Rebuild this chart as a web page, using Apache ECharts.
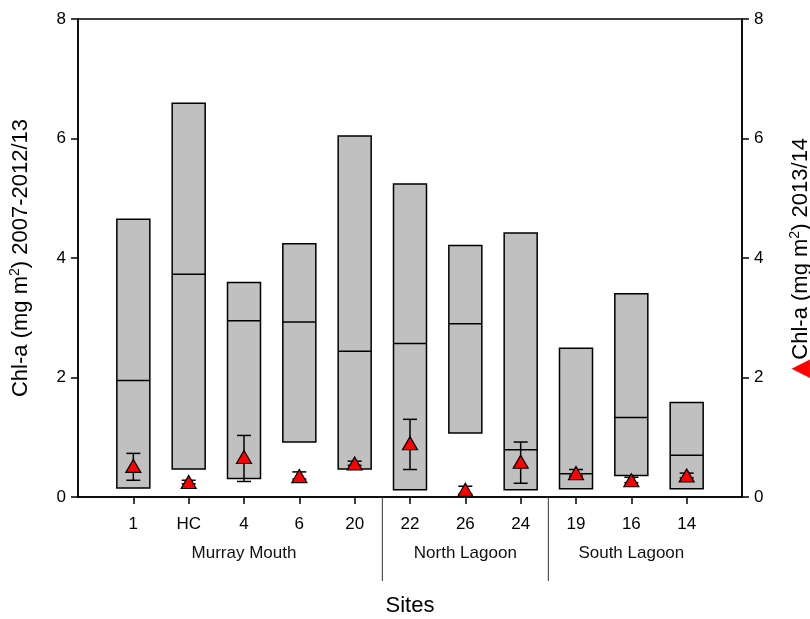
<!DOCTYPE html>
<html>
<head>
<meta charset="utf-8">
<script src="https://cdn.jsdelivr.net/npm/echarts@6/dist/echarts.min.js"></script>
<style>
  html, body { margin: 0; padding: 0; background: #fff; }
  #chart { width: 810px; height: 619px; }
</style>
</head>
<body>
<div id="chart"></div>
<script>
// 站点与数据
var sites = ['1', 'HC', '4', '6', '20', '22', '26', '24', '19', '16', '14'];
var boxMin = [0.15, 0.47, 0.31, 0.92, 0.47, 0.12, 1.07, 0.12, 0.14, 0.36, 0.14];
var boxMed = [1.95, 3.73, 2.95, 2.93, 2.44, 2.57, 2.90, 0.79, 0.39, 1.33, 0.70];
var boxMax = [4.65, 6.59, 3.59, 4.24, 6.04, 5.24, 4.21, 4.42, 2.49, 3.40, 1.58];
var mean2013 = [0.52, 0.25, 0.67, 0.35, 0.56, 0.90, 0.12, 0.59, 0.40, 0.28, 0.36];
var errLo = [0.28, 0.22, 0.26, 0.30, 0.53, 0.46, 0.05, 0.23, 0.35, 0.24, 0.32];
var errHi = [0.73, 0.28, 1.03, 0.42, 0.60, 1.30, 0.18, 0.92, 0.46, 0.33, 0.40];
var yTicks = [0, 2, 4, 6, 8];
var groups = [
  { name: 'Murray Mouth', first: 0, last: 4 },
  { name: 'North Lagoon', first: 5, last: 7 },
  { name: 'South Lagoon', first: 8, last: 10 }
];

// 两端各留一个空位
var xCats = [''].concat(sites, ['']);

var chart = echarts.init(document.getElementById('chart'));

var boxData = sites.map(function (s, i) { return [i + 1, boxMin[i], boxMed[i], boxMax[i]]; });
var errData = sites.map(function (s, i) { return [i + 1, errLo[i], errHi[i]]; });
var meanData = sites.map(function (s, i) { return [i + 1, mean2013[i]]; });

var font = 'Liberation Sans, Arial, sans-serif';

var yAxisBase = {
  type: 'value',
  min: yTicks[0],
  max: yTicks[yTicks.length - 1],
  interval: 2,
  splitLine: { show: false },
  axisLine: { show: true, lineStyle: { color: '#000', width: 1.5 } },
  axisTick: { show: true, inside: false, length: 7, lineStyle: { color: '#000', width: 1.5 } },
  axisLabel: { color: '#000', fontSize: 17, fontFamily: font, margin: 12 },
  nameLocation: 'middle',
  nameRotate: 90,
  nameTextStyle: {
    color: '#000', fontSize: 22, fontFamily: font,
    rich: {
      sup: { fontSize: 14, fontFamily: font, color: '#000', verticalAlign: 'top', padding: [0, 0, 12, 0] },
      tri: { fontSize: 24, fontFamily: 'DejaVu Sans', color: '#ff0000' }
    }
  }
};

option = {
  animation: false,
  grid: {
    left: 78, right: 68, top: 19, bottom: 122,
    outerBoundsMode: 'none',
    show: true, borderColor: '#000', borderWidth: 1.5
  },
  xAxis: {
    type: 'category',
    data: xCats,
    boundaryGap: false,
    name: 'Sites',
    nameLocation: 'middle',
    nameGap: 98,
    nameTextStyle: { color: '#000', fontSize: 22, fontFamily: font },
    axisLine: { lineStyle: { color: '#000', width: 1.5 } },
    axisTick: {
      length: 7,
      lineStyle: { color: '#000', width: 1.5 },
      interval: function (i) { return i > 0 && i < xCats.length - 1; }
    },
    axisLabel: { color: '#000', fontSize: 17, fontFamily: font, margin: 19, interval: 0 }
  },
  yAxis: [
    Object.assign({}, yAxisBase, {
      position: 'left',
      name: 'Chl-a (mg m{sup|2}) 2007-2012/13',
      nameGap: 44
    }),
    Object.assign({}, yAxisBase, {
      position: 'right',
      name: '{tri|▲}Chl-a (mg m{sup|2}) 2013/14',
      nameGap: 46
    })
  ],
  series: [
    {
      // 箱体：最小值到最大值，中间为中位数
      type: 'custom',
      data: boxData,
      renderItem: function (params, api) {
        var x = api.value(0);
        var lo = api.coord([x, api.value(1)]);
        var md = api.coord([x, api.value(2)]);
        var hi = api.coord([x, api.value(3)]);
        var w = 33;
        return {
          type: 'group',
          children: [
            {
              type: 'rect',
              shape: { x: lo[0] - w / 2, y: hi[1], width: w, height: lo[1] - hi[1] },
              style: { fill: '#c0c0c0', stroke: '#000', lineWidth: 1.5 }
            },
            {
              type: 'line',
              shape: { x1: md[0] - w / 2, y1: md[1], x2: md[0] + w / 2, y2: md[1] },
              style: { stroke: '#000', lineWidth: 1.5 }
            }
          ]
        };
      }
    },
    {
      // 误差线
      type: 'custom',
      yAxisIndex: 1,
      data: errData,
      z: 3,
      renderItem: function (params, api) {
        var x = api.value(0);
        var lo = api.coord([x, api.value(1)]);
        var hi = api.coord([x, api.value(2)]);
        var c = 7;
        var st = { stroke: '#000', lineWidth: 1.5 };
        return {
          type: 'group',
          children: [
            { type: 'line', shape: { x1: lo[0], y1: lo[1], x2: hi[0], y2: hi[1] }, style: st },
            { type: 'line', shape: { x1: lo[0] - c, y1: lo[1], x2: lo[0] + c, y2: lo[1] }, style: st },
            { type: 'line', shape: { x1: hi[0] - c, y1: hi[1], x2: hi[0] + c, y2: hi[1] }, style: st }
          ]
        };
      }
    },
    {
      type: 'scatter',
      yAxisIndex: 1,
      data: meanData,
      symbol: 'triangle',
      symbolSize: [15, 13],
      z: 4,
      itemStyle: { color: '#ff0000', borderColor: '#000', borderWidth: 1.2, opacity: 1 }
    },
    {
      // 分组标签与分隔线
      type: 'custom',
      data: groups.map(function (g, i) { return i; }),
      silent: true,
      renderItem: function (params, api) {
        var g = groups[params.dataIndex];
        var a = api.coord([g.first + 1, 0]);
        var b = api.coord([g.last + 1, 0]);
        var children = [{
          type: 'text',
          style: {
            text: g.name, x: (a[0] + b[0]) / 2, y: a[1] + 56,
            textAlign: 'center', textVerticalAlign: 'middle',
            fontSize: 17, fontFamily: font, fill: '#111'
          }
        }];
        if (params.dataIndex < groups.length - 1) {
          var n = api.coord([g.last + 2, 0]);
          var sx = (b[0] + n[0]) / 2;
          children.push({
            type: 'line',
            shape: { x1: sx, y1: b[1], x2: sx, y2: b[1] + 84 },
            style: { stroke: '#333', lineWidth: 1 }
          });
        }
        return { type: 'group', children: children };
      }
    }
  ]
};

chart.setOption(option);
</script>
</body>
</html>
